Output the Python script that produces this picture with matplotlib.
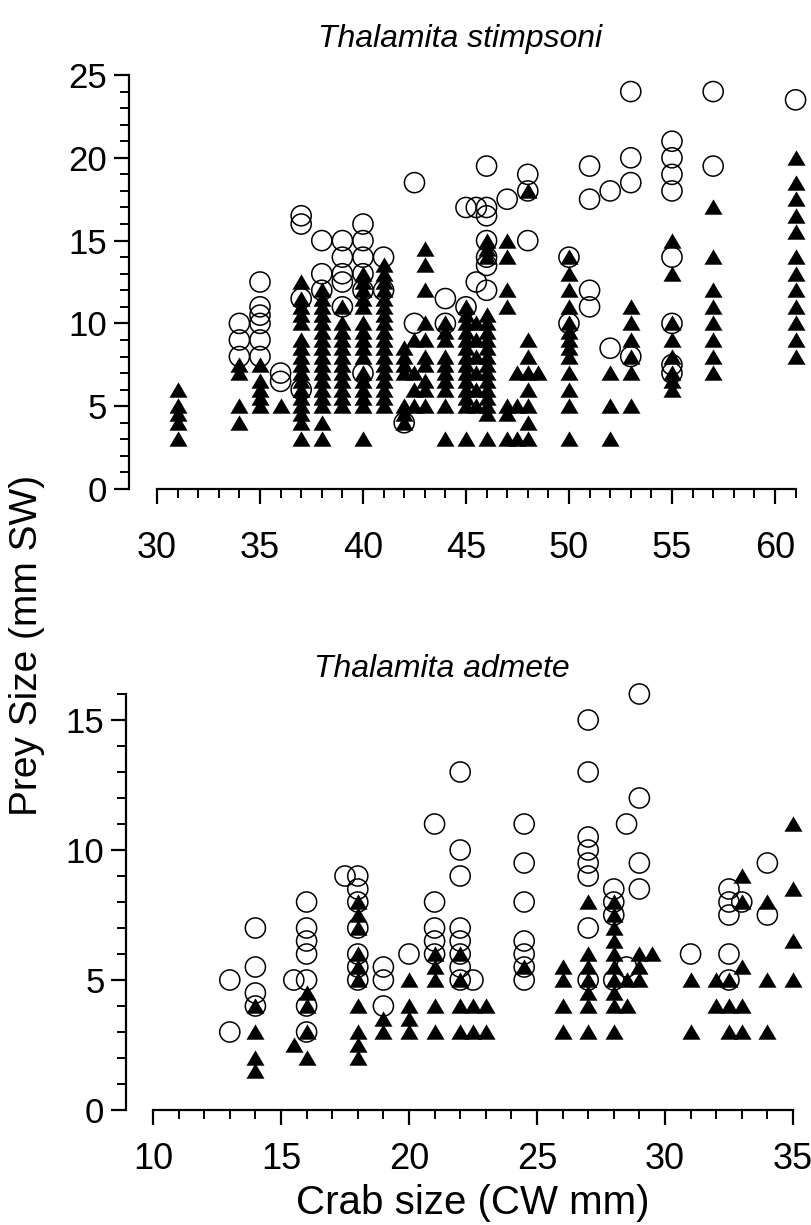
import matplotlib
matplotlib.use("Agg")
import matplotlib.pyplot as plt

plt.rcParams['font.family'] = ['Liberation Sans', 'DejaVu Sans']

# ---- Thalamita stimpsoni: crab width (mm CW) -> prey sizes (mm SW) ----
stim_solid = {
    31: [3, 4, 4.5, 5, 6],
    34: [4, 5, 7, 7.5],
    35: [5, 5.5, 6, 6.5, 7.5],
    36: [5],
    37: [3, 4, 4.5, 5, 5.5, 6, 6.5, 7, 7.5, 8, 8.5, 9, 10, 10.5, 11, 11.5, 12.5],
    38: [3, 4, 5, 5.5, 6, 6.5, 7, 7.5, 8, 8.5, 9, 9.5, 10, 10.5, 11, 11.5, 12],
    39: [5, 5.5, 6, 6.5, 7, 7.5, 8, 8.5, 9, 9.5, 10, 11],
    40: [3, 5, 5.5, 6, 6.5, 7, 8, 8.5, 9, 9.5, 10, 11, 11.5, 12, 12.5, 13],
    41: [5, 5.5, 6, 6.5, 7, 7.5, 8, 8.5, 9, 9.5, 10, 10.5, 11, 11.5, 12, 12.5, 13, 13.5],
    42: [4, 4.5, 5, 7, 7.5, 8, 8.5],
    42.5: [5, 6, 7, 9],
    43: [5, 6, 6.5, 7.5, 8, 9, 10, 12, 13.5, 14.5],
    44: [3, 5, 6, 6.5, 7, 7.5, 8, 9, 9.5, 10],
    45: [3, 5, 5.5, 6, 6.5, 7, 7.5, 8, 8.5, 9, 9.5, 10, 10.5, 11],
    45.5: [5, 6, 7, 8, 9, 10],
    46: [3, 4.5, 5, 5.5, 6, 6.5, 7, 7.5, 8, 8.5, 9, 9.5, 10, 10.5, 14, 14.5, 15],
    47: [3, 4.5, 5, 11, 12, 14, 15],
    47.5: [3, 5, 7],
    48: [3, 4, 5, 6, 7, 8, 9, 18],
    48.5: [7],
    50: [3, 5, 6, 7, 8, 8.5, 9, 9.5, 10, 11, 12, 13, 14],
    52: [3, 5, 7],
    53: [5, 7, 8, 9, 10, 11],
    55: [6, 6.5, 7, 8, 9, 10, 13, 15],
    57: [7, 8, 9, 10, 11, 12, 14, 17],
    61: [8, 9, 10, 11, 12, 13, 14, 15.5, 16.5, 17.5, 18.5, 20],
}
stim_open = {
    34: [8, 9, 10],
    35: [8, 9, 10, 10.5, 11, 12.5],
    36: [6.5, 7],
    37: [6, 11.5, 16, 16.5],
    38: [12, 13, 15],
    39: [11, 12.5, 13, 14, 15],
    40: [7, 12, 13, 14, 15, 16],
    41: [12, 14],
    42: [4],
    42.5: [10, 18.5],
    44: [10, 11.5],
    45: [11, 17],
    45.5: [12.5, 17],
    46: [12, 13.5, 14, 15, 16.5, 17, 19.5],
    47: [17.5],
    48: [15, 18, 19],
    50: [10, 14],
    51: [11, 12, 17.5, 19.5],
    52: [8.5, 18],
    53: [8, 18.5, 20, 24],
    55: [7, 7.5, 10, 14, 18, 19, 20, 21],
    57: [19.5, 24],
    61: [23.5],
}

# ---- Thalamita admete ----
adm_solid = {
    14: [1.5, 2, 3, 4],
    15.5: [2.5],
    16: [2, 3, 4, 4.5],
    18: [2, 2.5, 3, 4, 5, 5.5, 6, 7, 7.5, 8],
    19: [3, 3.5],
    20: [3, 3.5, 4, 5],
    21: [3, 4, 5, 5.5, 6],
    22: [3, 4, 5, 6],
    22.5: [3, 4],
    23: [3, 4],
    24.5: [5.5],
    26: [3, 4, 5, 5.5],
    27: [3, 4, 4.5, 5, 5.5, 6, 8],
    28: [3, 4, 4.5, 5, 5.5, 6, 6.5, 7, 7.5, 8],
    28.5: [4, 5],
    29: [5, 5.5, 6],
    29.5: [6],
    31: [3, 5],
    32: [4, 5],
    32.5: [3, 4, 5],
    33: [3, 4, 5.5, 8, 9],
    34: [3, 5, 8],
    35: [5, 6.5, 8.5, 11],
}
adm_open = {
    13: [3, 5],
    14: [4, 4.5, 5.5, 7],
    15.5: [5],
    16: [3, 4, 5, 6, 6.5, 7, 8],
    17.5: [9],
    18: [5, 5.5, 6, 7, 8, 8.5, 9],
    19: [4, 5, 5.5],
    20: [6],
    21: [6, 6.5, 7, 8, 11],
    22: [5, 5.5, 6, 6.5, 7, 9, 10, 13],
    22.5: [5],
    24.5: [5, 5.5, 6, 6.5, 8, 9.5, 11],
    27: [5, 7, 9, 9.5, 10, 10.5, 13, 15],
    28: [5, 7.5, 8, 8.5],
    28.5: [5.5, 11],
    29: [8.5, 9.5, 12, 16],
    31: [6],
    32.5: [5, 6, 7.5, 8, 8.5],
    33: [8],
    34: [7.5, 9.5],
}

stim_xticks = [30, 35, 40, 45, 50, 55, 60]
stim_yticks = [0, 5, 10, 15, 20, 25]
adm_xticks = [10, 15, 20, 25, 30, 35]
adm_yticks = [0, 5, 10, 15]


def expand(columns):
    xs, ys = [], []
    for cw, sizes in columns.items():
        for s in sizes:
            xs.append(cw)
            ys.append(s)
    return xs, ys


TRI = [(-1.0, -0.8), (1.0, -0.8), (0.0, 0.9)]
W, H = 811, 1225


def px_axes(left, right, top, bottom):
    return [left / W, (H - bottom) / H, (right - left) / W, (bottom - top) / H]


def style(ax, xlim, ylim, xb, yb, xticks, yticks, xpad):
    ax.set_xlim(*xlim)
    ax.set_ylim(*ylim)
    for s in ("top", "right"):
        ax.spines[s].set_visible(False)
    ax.spines["bottom"].set_bounds(*xb)
    ax.spines["left"].set_bounds(*yb)
    for s in ("bottom", "left"):
        ax.spines[s].set_linewidth(1.6)
    ax.set_xticks(xticks)
    ax.set_yticks(yticks)
    ax.set_xticks(list(range(int(xb[0]), int(xb[1]) + 1)), minor=True)
    ax.set_yticks(list(range(int(yb[0]), int(yb[1]) + 1)), minor=True)
    ax.tick_params(which="major", direction="out", length=11, width=1.6)
    ax.tick_params(which="minor", direction="out", length=6.5, width=1.4)
    ax.tick_params(axis="x", which="major", labelsize=26, pad=xpad)
    ax.tick_params(axis="y", which="major", labelsize=25, pad=4.5)


def draw(ax, solid, hollow):
    sx, sy = expand(solid)
    ox, oy = expand(hollow)
    ax.scatter(sx, sy, marker=TRI, s=13 ** 2, c="black", linewidths=0,
               clip_on=False, zorder=3)
    ax.scatter(ox, oy, marker="o", s=14.5 ** 2, facecolors="none",
               edgecolors="black", linewidths=1.1, clip_on=False, zorder=4)


fig = plt.figure(figsize=(W / 100, H / 100), dpi=100)

# upper panel: x=30 at 157 px, 20.6 px per mm; y=0 at 489 px, y=25 at 75 px
ax1 = fig.add_axes(px_axes(128.5, 803.8, 75, 489))
draw(ax1, stim_solid, stim_open)
style(ax1, (30 - 28.5 / 20.6, 61.4), (0, 25), (30, 61), (0, 25),
      stim_xticks, stim_yticks, xpad=19)

# lower panel: x=10 at 153 px, 25.6 px per mm; y=0 at 1110 px, y=16 at 694 px
ax2 = fig.add_axes(px_axes(126, 803.2, 694, 1110))
draw(ax2, adm_solid, adm_open)
style(ax2, (10 - 27 / 25.6, 35.4), (0, 16), (10, 35), (0, 16),
      adm_xticks, adm_yticks, xpad=12)

fig.text(460 / W, 1 - 39 / H, "Thalamita stimpsoni", style="italic",
         fontsize=23, ha="center", va="center")
fig.text(442 / W, 1 - 669 / H, "Thalamita admete", style="italic",
         fontsize=23, ha="center", va="center")
fig.text(27 / W, 1 - 645 / H, "Prey Size (mm SW)", rotation=90,
         fontsize=28, ha="center", va="center")
fig.text(473 / W, 1 - 1203 / H, "Crab size (CW mm)",
         fontsize=29, ha="center", va="center")

fig.savefig("out.png", dpi=100, facecolor="white")
